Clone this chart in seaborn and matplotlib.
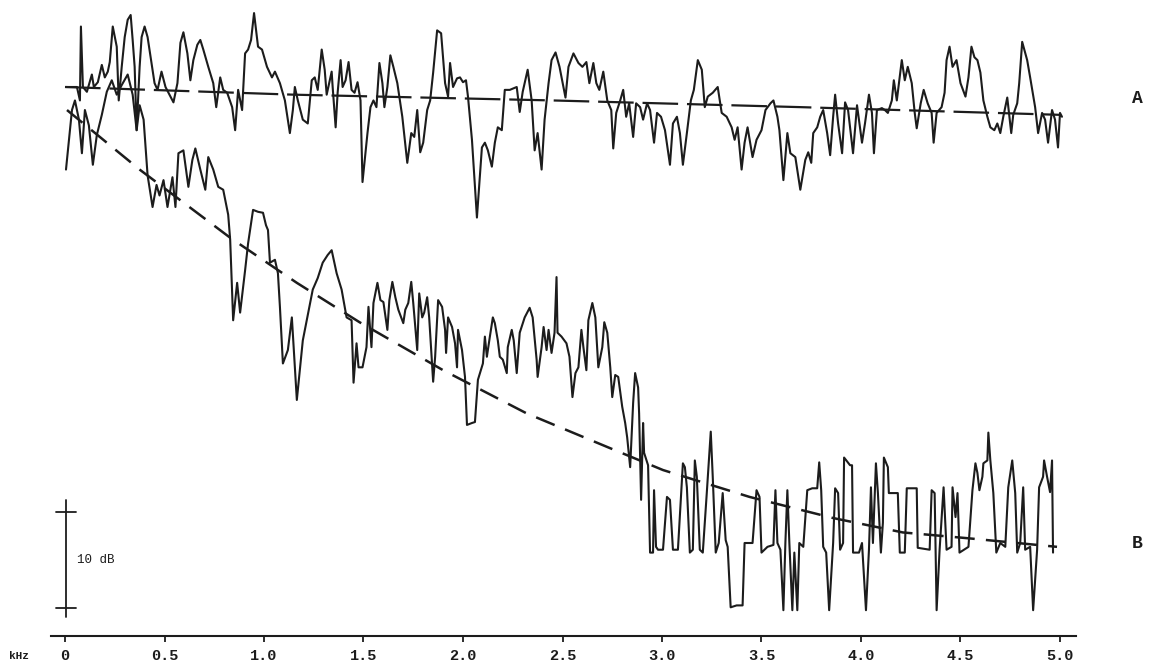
import numpy as np
import pandas as pd
import matplotlib
matplotlib.use("Agg")
import matplotlib.pyplot as plt
import seaborn as sns

# ---------------- data (frequency in kHz, level in dB) ----------------
freq_A = [0.005, 0.06, 0.075, 0.08, 0.09, 0.11, 0.135, 0.145, 0.165, 0.185, 0.2, 0.215, 0.225, 0.24, 0.26, 0.27,
          0.285, 0.3, 0.315, 0.33, 0.34, 0.35, 0.36, 0.375, 0.385, 0.4, 0.415, 0.435, 0.45, 0.465, 0.485, 0.505,
          0.52, 0.545, 0.565, 0.58, 0.595, 0.615, 0.63, 0.645, 0.665, 0.68, 0.695, 0.72, 0.745, 0.76, 0.78, 0.795,
          0.815, 0.84, 0.855, 0.87, 0.89, 0.905, 0.92, 0.935, 0.95, 0.97, 0.99, 1.015, 1.04, 1.055, 1.08, 1.105,
          1.13, 1.145, 1.155, 1.17, 1.195, 1.22, 1.24, 1.255, 1.27, 1.29, 1.305, 1.315, 1.34, 1.345, 1.36, 1.37,
          1.385, 1.395, 1.41, 1.425, 1.44, 1.455, 1.47, 1.485, 1.495, 1.52, 1.535, 1.55, 1.565, 1.58, 1.595, 1.605,
          1.62, 1.635, 1.65, 1.67, 1.695, 1.72, 1.74, 1.755, 1.77, 1.785, 1.8, 1.82, 1.835, 1.85, 1.87, 1.89,
          1.91, 1.925, 1.935, 1.95, 1.97, 1.985, 2.0, 2.015, 2.025, 2.045, 2.07, 2.095, 2.11, 2.125, 2.145, 2.16,
          2.175, 2.195, 2.21, 2.235, 2.27, 2.285, 2.3, 2.325, 2.345, 2.36, 2.375, 2.395, 2.41, 2.43, 2.445, 2.465,
          2.485, 2.515, 2.53, 2.555, 2.58, 2.6, 2.62, 2.635, 2.655, 2.67, 2.685, 2.705, 2.725, 2.745, 2.755, 2.77,
          2.79, 2.805, 2.82, 2.835, 2.855, 2.87, 2.89, 2.905, 2.925, 2.94, 2.96, 2.975, 2.995, 3.015, 3.04, 3.055,
          3.075, 3.09, 3.105, 3.125, 3.145, 3.16, 3.18, 3.2, 3.215, 3.23, 3.255, 3.28, 3.3, 3.325, 3.35, 3.365,
          3.38, 3.4, 3.415, 3.43, 3.455, 3.475, 3.5, 3.52, 3.545, 3.56, 3.58, 3.59, 3.61, 3.63, 3.645, 3.67,
          3.695, 3.72, 3.735, 3.75, 3.76, 3.78, 3.795, 3.81, 3.83, 3.845, 3.86, 3.87, 3.885, 3.905, 3.92, 3.935,
          3.96, 3.98, 3.995, 4.005, 4.02, 4.04, 4.055, 4.065, 4.08, 4.105, 4.12, 4.135, 4.155, 4.165, 4.18, 4.205,
          4.22, 4.235, 4.255, 4.27, 4.28, 4.3, 4.315, 4.335, 4.355, 4.365, 4.38, 4.405, 4.42, 4.43, 4.445, 4.46,
          4.48, 4.5, 4.525, 4.54, 4.555, 4.57, 4.585, 4.6, 4.615, 4.635, 4.65, 4.67, 4.685, 4.7, 4.715, 4.735,
          4.755, 4.765, 4.785, 4.795, 4.81, 4.835, 4.85, 4.875, 4.89, 4.91, 4.925, 4.94, 4.96, 4.975, 4.99, 5.0,
          5.01]
level_A = [0.0, 0.0, -1.4, 6.3, 0.0, -0.5, 1.3, 0.0, 0.5, 2.3, 1.0, 1.6, 2.6, 6.3, 4.2, -1.4,
           2.1, 5.2, 7.0, 7.5, 4.9, 2.1, -4.5, 2.1, 5.2, 6.3, 5.2, 2.5, 0.4, -0.3, 1.6, 0.0,
           -0.6, -1.6, 0.4, 4.6, 5.7, 3.5, 0.7, 2.8, 4.4, 4.9, 3.9, 2.1, 0.4, -2.1, 1.0, -0.3,
           -0.6, -2.1, -4.5, -0.3, -2.4, 3.5, 3.9, 4.9, 7.7, 4.2, 3.9, 2.1, 1.0, 1.6, 0.4, -1.4,
           -4.8, -2.4, 0.0, -1.4, -3.4, -3.8, 0.7, 1.0, -0.3, 3.9, 1.8, -0.8, 1.6, 0.0, -4.2, -0.6,
           2.8, 0.0, 0.7, 2.6, -0.3, -0.6, 0.5, -1.4, -9.9, -4.8, -2.1, -1.4, -2.1, 2.5, 0.4, -2.1,
           0.0, 3.3, 2.1, 0.4, -3.1, -7.9, -4.8, -5.2, -2.4, -6.8, -5.8, -2.4, -1.4, 1.5, 5.9, 5.6,
           0.4, -1.0, 2.5, 0.0, 0.9, 1.0, 0.5, 0.7, -1.0, -5.5, -13.6, -6.3, -5.8, -6.6, -8.3, -5.8,
           -4.2, -4.5, -0.3, -0.3, 0.0, -2.6, -0.5, 1.8, -1.4, -6.6, -4.8, -8.6, -3.4, 0.4, 2.8, 3.6,
           2.1, -1.1, 2.1, 3.5, 2.5, 2.1, 2.6, 0.4, 2.5, 0.4, -0.3, 1.6, -1.4, -2.4, -6.4, -2.7,
           -1.4, -0.3, -3.1, -1.7, -5.2, -1.7, -2.1, -3.4, -1.7, -2.4, -5.8, -2.7, -3.1, -4.5, -8.1, -3.8,
           -3.1, -4.8, -8.1, -4.8, -1.4, -0.3, 2.8, 1.8, -2.1, -1.0, -0.6, 0.0, -2.7, -3.1, -4.2, -5.5,
           -4.2, -8.6, -5.8, -4.2, -7.3, -5.5, -4.5, -2.4, -1.7, -1.4, -3.1, -4.5, -9.7, -4.8, -6.9, -7.3,
           -10.7, -7.6, -6.8, -7.9, -4.8, -4.2, -3.1, -2.4, -4.8, -7.1, -3.1, -0.8, -3.8, -6.9, -1.6, -2.4,
           -6.9, -1.9, -4.2, -5.8, -3.8, -0.8, -2.7, -6.9, -2.4, -2.2, -2.4, -2.7, -1.4, 0.7, -1.4, 2.8,
           0.7, 2.1, 0.4, -2.7, -4.3, -1.7, -0.3, -1.7, -2.7, -5.8, -2.7, -2.1, -0.6, 2.8, 4.2, 2.1,
           2.8, 0.4, -1.0, 1.0, 4.2, 3.1, 2.8, 1.5, -1.4, -3.1, -4.2, -4.5, -3.8, -4.8, -3.1, -1.1,
           -4.8, -2.9, -1.7, 0.4, 4.7, 2.8, 1.0, -2.1, -4.8, -2.7, -3.4, -5.8, -2.4, -3.4, -6.3, -2.7,
           -3.1]

freq_B = [0.005, 0.035, 0.05, 0.07, 0.085, 0.1, 0.12, 0.14, 0.16, 0.185, 0.21, 0.235, 0.26, 0.285, 0.315, 0.34,
          0.36, 0.375, 0.395, 0.415, 0.44, 0.46, 0.475, 0.495, 0.515, 0.54, 0.555, 0.57, 0.595, 0.62, 0.64, 0.655,
          0.68, 0.705, 0.72, 0.745, 0.77, 0.795, 0.82, 0.83, 0.845, 0.865, 0.88, 0.905, 0.92, 0.945, 0.97, 0.995,
          1.01, 1.02, 1.03, 1.055, 1.07, 1.08, 1.095, 1.12, 1.14, 1.165, 1.195, 1.245, 1.27, 1.295, 1.32, 1.34,
          1.365, 1.39, 1.415, 1.44, 1.45, 1.465, 1.475, 1.495, 1.515, 1.525, 1.54, 1.55, 1.57, 1.585, 1.6, 1.62,
          1.63, 1.645, 1.66, 1.675, 1.7, 1.71, 1.725, 1.74, 1.75, 1.77, 1.78, 1.795, 1.805, 1.82, 1.83, 1.85,
          1.86, 1.875, 1.895, 1.91, 1.915, 1.925, 1.945, 1.96, 1.97, 1.975, 1.995, 2.01, 2.02, 2.045, 2.06, 2.075,
          2.1, 2.11, 2.12, 2.135, 2.15, 2.16, 2.175, 2.185, 2.2, 2.22, 2.225, 2.245, 2.255, 2.27, 2.285, 2.31,
          2.335, 2.35, 2.37, 2.375, 2.395, 2.405, 2.42, 2.43, 2.445, 2.46, 2.47, 2.475, 2.495, 2.52, 2.535, 2.55,
          2.565, 2.58, 2.595, 2.605, 2.62, 2.63, 2.65, 2.665, 2.68, 2.7, 2.71, 2.725, 2.74, 2.75, 2.765, 2.78,
          2.8, 2.815, 2.825, 2.84, 2.855, 2.865, 2.88, 2.885, 2.895, 2.905, 2.91, 2.93, 2.94, 2.955, 2.96, 2.97,
          2.98, 3.005, 3.025, 3.04, 3.055, 3.08, 3.105, 3.115, 3.125, 3.14, 3.155, 3.165, 3.175, 3.19, 3.205, 3.225,
          3.245, 3.255, 3.27, 3.285, 3.305, 3.32, 3.33, 3.345, 3.375, 3.405, 3.415, 3.455, 3.475, 3.49, 3.5, 3.53,
          3.56, 3.57, 3.58, 3.595, 3.61, 3.62, 3.63, 3.64, 3.655, 3.665, 3.68, 3.69, 3.71, 3.73, 3.755, 3.78,
          3.79, 3.8, 3.81, 3.825, 3.84, 3.86, 3.87, 3.885, 3.895, 3.91, 3.915, 3.945, 3.955, 3.96, 3.99, 4.005,
          4.025, 4.04, 4.05, 4.06, 4.075, 4.085, 4.1, 4.11, 4.115, 4.135, 4.14, 4.185, 4.195, 4.22, 4.23, 4.28,
          4.285, 4.345, 4.355, 4.37, 4.38, 4.395, 4.415, 4.43, 4.455, 4.46, 4.475, 4.485, 4.495, 4.54, 4.56, 4.575,
          4.585, 4.595, 4.61, 4.615, 4.635, 4.64, 4.65, 4.665, 4.68, 4.7, 4.725, 4.74, 4.76, 4.775, 4.785, 4.8,
          4.815, 4.825, 4.85, 4.865, 4.885, 4.895, 4.915, 4.92, 4.935, 4.95, 4.96, 4.965]
level_B = [-8.6, -2.4, -1.4, -3.4, -6.9, -2.4, -4.0, -8.1, -5.0, -2.9, -0.5, 0.7, -0.8, 0.2, 1.3, -0.8,
           -4.5, -1.9, -3.4, -9.2, -12.5, -10.2, -11.3, -9.7, -12.5, -9.4, -12.5, -6.9, -6.6, -10.4, -7.6, -6.4,
           -8.6, -10.7, -7.3, -8.6, -10.4, -10.7, -13.3, -15.9, -24.3, -20.4, -23.5, -19.1, -16.3, -12.8, -13.0, -13.1,
           -14.4, -14.9, -18.3, -18.0, -19.4, -22.9, -28.8, -27.4, -24.0, -32.6, -26.4, -21.1, -19.9, -18.3, -17.5, -17.0,
           -19.4, -21.1, -24.0, -24.3, -30.8, -26.7, -29.2, -29.2, -27.1, -22.9, -27.1, -22.5, -20.4, -22.2, -22.4, -25.3,
           -22.2, -20.3, -21.9, -23.2, -24.6, -23.2, -22.5, -20.3, -22.5, -27.4, -21.5, -24.0, -23.5, -21.9, -24.0, -30.7,
           -28.1, -22.2, -22.9, -25.3, -27.7, -24.0, -25.0, -26.7, -29.2, -25.3, -27.4, -30.2, -35.2, -35.0, -34.9, -30.5,
           -28.8, -26.0, -28.1, -26.0, -24.0, -24.6, -26.4, -28.1, -28.4, -29.8, -27.1, -25.3, -26.4, -29.8, -25.6, -24.0,
           -23.0, -24.0, -28.4, -30.2, -27.1, -25.0, -27.4, -25.3, -27.7, -25.6, -19.8, -25.6, -26.0, -26.7, -28.1, -32.3,
           -29.8, -29.2, -25.3, -27.1, -29.5, -24.3, -22.5, -24.0, -29.2, -27.1, -24.5, -25.6, -29.2, -32.3, -30.0, -30.2,
           -33.3, -35.0, -36.5, -39.6, -32.9, -29.8, -31.3, -34.0, -43.0, -35.0, -38.1, -39.4, -48.5, -48.5, -42.0, -47.9,
           -48.2, -48.2, -42.7, -43.0, -48.2, -48.2, -39.2, -39.6, -41.7, -48.5, -48.2, -38.9, -40.6, -48.2, -48.5, -42.3,
           -35.9, -40.6, -48.5, -47.5, -42.3, -47.2, -47.9, -54.2, -54.0, -54.0, -47.5, -47.5, -42.0, -42.7, -48.5, -47.9,
           -47.7, -42.0, -47.5, -48.2, -54.5, -47.5, -42.0, -47.5, -54.5, -48.5, -54.5, -47.5, -47.9, -42.0, -41.8, -41.8,
           -39.1, -42.0, -47.9, -48.5, -54.5, -47.5, -41.8, -42.3, -48.2, -47.5, -38.6, -39.4, -39.4, -48.5, -48.5, -47.5,
           -54.5, -48.2, -41.7, -47.5, -39.2, -42.3, -48.5, -45.4, -38.6, -39.6, -42.3, -42.3, -48.5, -48.5, -41.8, -41.8,
           -48.0, -48.2, -42.0, -42.3, -54.5, -48.2, -41.7, -48.2, -47.9, -41.7, -44.8, -42.3, -48.5, -47.9, -42.0, -39.2,
           -40.2, -42.0, -40.6, -39.2, -38.9, -36.0, -38.9, -42.3, -48.5, -47.5, -47.9, -41.7, -38.9, -42.3, -48.5, -47.5,
           -41.7, -48.2, -47.9, -54.5, -48.2, -41.7, -40.6, -38.9, -40.6, -42.2, -38.9, -48.5]

trend_A_freq = [0.0, 1.15, 2.45, 3.7, 5.0]
trend_A_level = [0.0, -0.8, -1.4, -2.1, -2.9]
trend_B_freq = [0.01, 0.375, 0.83, 1.165, 1.48, 1.9, 2.32, 2.725, 3.005, 3.44, 3.86, 4.21, 4.535, 4.985]
trend_B_level = [-2.4, -8.6, -15.7, -20.4, -24.5, -29.5, -34.0, -37.5, -39.9, -42.7, -44.9, -46.4, -47.0, -47.9]

tick_values = [0, 0.5, 1.0, 1.5, 2.0, 2.5, 3.0, 3.5, 4.0, 4.5, 5.0]
tick_labels = ["0", "0.5", "1.0", "1.5", "2.0", "2.5", "3.0", "3.5", "4.0", "4.5", "5.0"]
trace_names = ["A", "B"]
scale_db = 10

# ---------------- style ----------------
sns.set_theme(style="white")
plt.rcParams["font.family"] = ["Liberation Mono", "DejaVu Sans Mono"]
ink = "#1c1c1c"

fig = plt.figure(figsize=(11.56, 6.66), dpi=100)
ax = fig.add_axes([0, 0, 1, 1])
ax.set_facecolor("white")

df_A = pd.DataFrame({"f": freq_A, "L": level_A})
df_B = pd.DataFrame({"f": freq_B, "L": level_B})
sns.lineplot(data=df_A, x="f", y="L", sort=False, estimator=None, color=ink, lw=1.5, ax=ax)
sns.lineplot(data=df_B, x="f", y="L", sort=False, estimator=None, color=ink, lw=1.5, ax=ax)

sns.lineplot(x=trend_A_freq, y=trend_A_level, sort=False, estimator=None, color=ink, lw=1.6, ax=ax)
ax.lines[-1].set_dashes((16, 4))
sns.lineplot(x=trend_B_freq, y=trend_B_level, sort=False, estimator=None, color=ink, lw=1.8, ax=ax)
ax.lines[-1].set_dashes((8, 4.5))

# scale bar (10 dB)
bar_top, bar_bot = -44.3, -44.3 - scale_db
ax.plot([0.005, 0.005], [bar_top + 1.3, bar_bot - 0.9], color=ink, lw=1.3)
for yb in (bar_top, bar_bot):
    ax.plot([-0.045, 0.055], [yb, yb], color=ink, lw=1.3)
ax.text(0.06, (bar_top + bar_bot) / 2, f"{scale_db} dB", fontsize=9, color=ink, va="center", ha="left")

# trace labels
ax.text(5.39, -1.2, trace_names[0], fontsize=13, fontweight="bold", color=ink, ha="center", va="center")
ax.text(5.39, -47.5, trace_names[1], fontsize=13, fontweight="bold", color=ink, ha="center", va="center")

# x axis
ax.set_xlim(-65 / 199, (1156 - 65) / 199)
ax.set_ylim(-60.3125, 9.0625)
for s in ("left", "right", "top"):
    ax.spines[s].set_visible(False)
ax.spines["bottom"].set_position(("data", -57.2))
ax.spines["bottom"].set_bounds(-0.07, 5.08)
ax.spines["bottom"].set_linewidth(1.5)
ax.spines["bottom"].set_color(ink)
ax.set_xticks(tick_values)
ax.set_xticklabels(tick_labels, fontweight="bold")
ax.set_yticks([])
ax.tick_params(axis="x", bottom=True, direction="out", length=4, width=1.3, color=ink,
               labelsize=11, pad=5, labelcolor=ink)
ax.set_xlabel("")
ax.set_ylabel("")
ax.text(-0.23, -59.3, "kHz", fontsize=8, fontweight="bold", color=ink, ha="center", va="center")

fig.savefig("out.png", dpi=100)
